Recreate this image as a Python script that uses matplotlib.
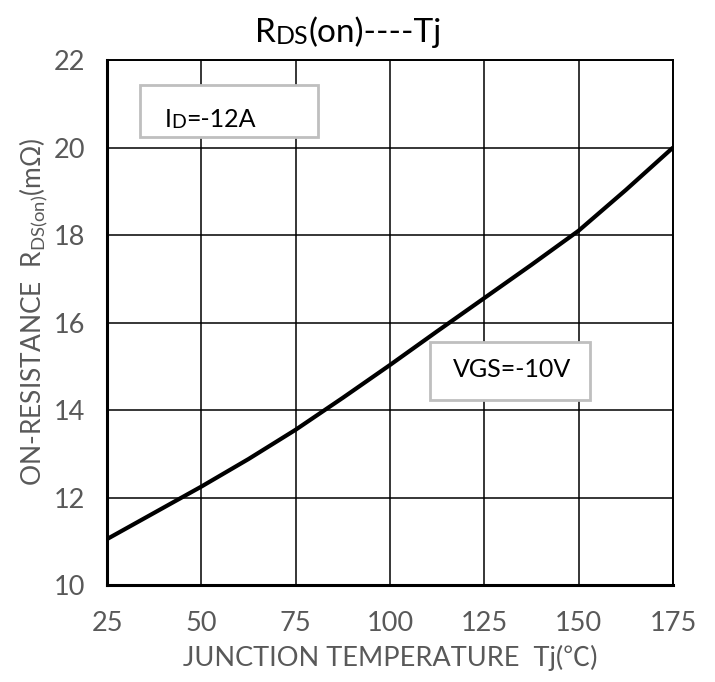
import numpy as np
import matplotlib.pyplot as plt
from matplotlib.patches import Rectangle

plt.rcParams['font.family'] = ['Lato', 'Noto Sans CJK SC', 'DejaVu Sans']

# courbe RDS(on) en fonction de Tj
tj = [25, 37.5, 50, 62.5, 75, 87.5, 100, 112.5, 125, 137.5, 150, 162.5, 175]
rds = [11.05, 11.65, 12.25, 12.88, 13.55, 14.28, 15.03, 15.8, 16.56, 17.32, 18.1, 19.03, 20.0]

x_ticks = [25, 50, 75, 100, 125, 150, 175]
y_ticks = [10, 12, 14, 16, 18, 20, 22]

gray = '#595959'

fig = plt.figure(figsize=(7.15, 6.82), dpi=100)
ax = fig.add_axes([0.1497, 0.1422, 0.7916, 0.7698])

ax.plot(tj, rds, color='black', lw=3.0, solid_capstyle='butt', zorder=3)

ax.set_xlim(25, 175)
ax.set_ylim(10, 22)
ax.set_xticks(x_ticks)
ax.set_yticks(y_ticks)
ax.grid(True, color='black', lw=1.1)
ax.tick_params(length=0, labelsize=19.5, labelcolor=gray)
ax.tick_params(axis='x', pad=19)
ax.tick_params(axis='y', pad=16)

for side in ['left', 'bottom']:
    ax.spines[side].set_linewidth(2.2)
for side in ['top', 'right']:
    ax.spines[side].set_linewidth(1.4)

# titre : R + DS + (on)----Tj
t1 = fig.text(0.356, 0.938, "R", fontsize=24, ha='left', va='baseline')
t2 = ax.annotate("DS", xy=(1, 0), xycoords=t1, fontsize=18, ha='left', va='bottom')
ax.annotate("(on)----Tj", xy=(1, 0), xycoords=t2, fontsize=24, ha='left', va='bottom')

# axes
ax.set_xlabel("JUNCTION TEMPERATURE  Tj(℃)", fontsize=19.5, color=gray, labelpad=6)
ax.set_ylabel(r"ON-RESISTANCE  R$_{\mathregular{DS(on)}}$(m$\mathregular{\Omega}$)",
              fontsize=19, color=gray)
ax.yaxis.set_label_coords(-0.10, 0.52)

# encadrés
box_kw = dict(transform=ax.transAxes, facecolor='white', edgecolor='#bfbfbf', lw=2, zorder=4)
ax.add_patch(Rectangle((0.058, 0.853), 0.315, 0.099, **box_kw))
ax.add_patch(Rectangle((0.571, 0.352), 0.282, 0.111, **box_kw))

i1 = ax.text(0.102, 0.872, "I", transform=ax.transAxes, fontsize=18, ha='left', va='baseline', zorder=5)
i2 = ax.annotate("D", xy=(1, 0), xycoords=i1, fontsize=14, ha='left', va='bottom', zorder=5)
ax.annotate("=-12A", xy=(1, 0), xycoords=i2, fontsize=18, ha='left', va='bottom', zorder=5)

ax.text(0.611, 0.41, "VGS=-10V", transform=ax.transAxes, fontsize=18,
        ha='left', va='center', zorder=5)

fig.savefig("out.png", dpi=100)
